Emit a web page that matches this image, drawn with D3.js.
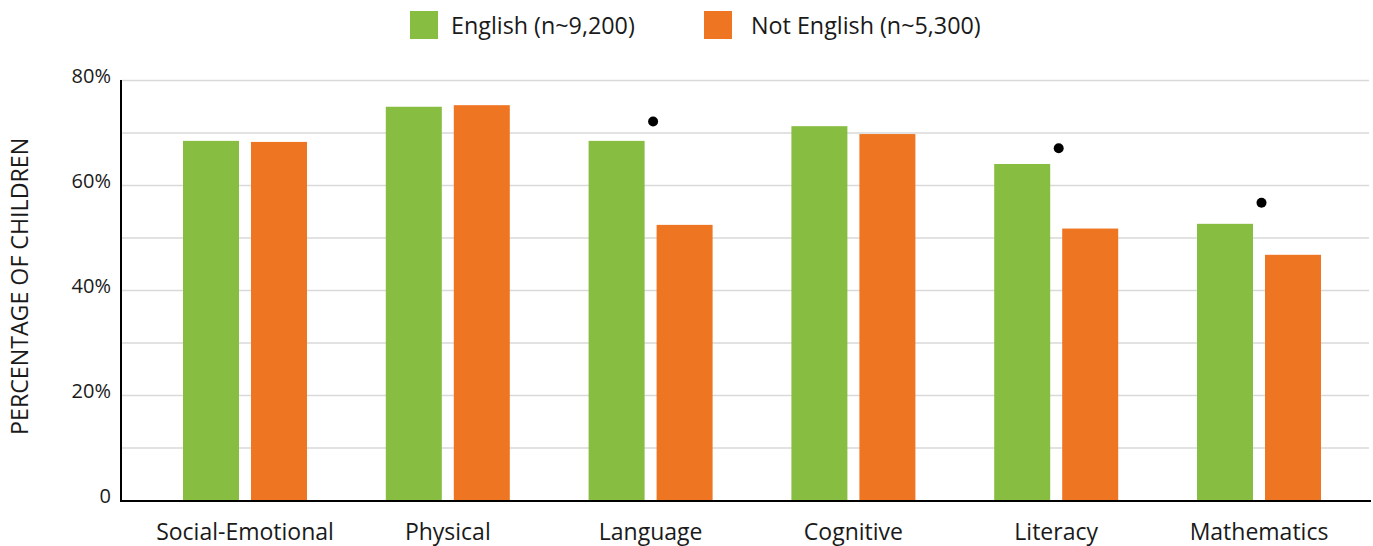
<!DOCTYPE html>
<html>
<head>
<meta charset="utf-8">
<script src="https://cdn.jsdelivr.net/npm/d3@7"></script>
<style>
  html, body { margin: 0; padding: 0; background: #ffffff; }
  svg { display: block; font-family: "Open Sans", "Noto Sans", sans-serif; }
</style>
</head>
<body>
<svg id="chart" width="1373" height="546"></svg>
<script>
// Domains of school readiness
const categories = ["Social-Emotional", "Physical", "Language", "Cognitive", "Literacy", "Mathematics"];

// Home language groups
const seriesNames = ["English (n~9,200)", "Not English (n~5,300)"];
const seriesColors = ["#87bd40", "#ee7623"];

// Percentage of children, one value per domain
const englishValues    = [68.5, 75.0, 68.5, 71.3, 64.1, 52.7];
const notEnglishValues = [68.3, 75.3, 52.5, 69.8, 51.8, 46.8];

// Significant-difference markers (domain, height in %)
const markerCategories = ["Language", "Literacy", "Mathematics"];
const markerValues     = [72.2, 67.1, 56.7];

// Axis ticks
const gridTicks  = [0, 10, 20, 30, 40, 50, 60, 70, 80];
const labelTicks = [0, 20, 40, 60, 80];
const yTitle = "PERCENTAGE OF CHILDREN";

const svg = d3.select("#chart");

const plot = { left: 121, right: 1369, top: 80.5, bottom: 500.5 };

const y = d3.scaleLinear().domain([0, 80]).range([plot.bottom, plot.top]);

const x0 = d3.scaleBand()
  .domain(categories)
  .range([143.6, 1360.4])
  .paddingInner(0.3886)
  .paddingOuter(0.1943);

const x1 = d3.scaleBand()
  .domain(seriesNames)
  .range([0, x0.bandwidth()])
  .paddingInner(12 / 68)
  .paddingOuter(0);

const color = d3.scaleOrdinal().domain(seriesNames).range(seriesColors);

// Gridlines
svg.append("g")
  .selectAll("line")
  .data(gridTicks.filter(t => t > 0))
  .join("line")
  .attr("x1", plot.left)
  .attr("x2", plot.right)
  .attr("y1", d => y(d))
  .attr("y2", d => y(d))
  .attr("stroke", "#d9d9d9")
  .attr("stroke-width", 1.5);

// Bars
const rows = categories.map((c, i) => ({
  category: c,
  values: [
    { series: seriesNames[0], value: englishValues[i] },
    { series: seriesNames[1], value: notEnglishValues[i] }
  ]
}));

svg.append("g")
  .selectAll("g")
  .data(rows)
  .join("g")
  .attr("transform", d => `translate(${x0(d.category)},0)`)
  .selectAll("rect")
  .data(d => d.values)
  .join("rect")
  .attr("x", d => x1(d.series))
  .attr("width", x1.bandwidth())
  .attr("y", d => y(d.value))
  .attr("height", d => y(0) - y(d.value))
  .attr("fill", d => color(d.series));

// Significance dots
svg.append("g")
  .selectAll("circle")
  .data(markerCategories.map((c, i) => ({ category: c, value: markerValues[i] })))
  .join("circle")
  .attr("cx", d => x0(d.category) + x0.bandwidth() / 2 + 2.5)
  .attr("cy", d => y(d.value))
  .attr("r", 5)
  .attr("fill", "#000000");

// Axis lines
svg.append("line")
  .attr("x1", plot.left).attr("x2", plot.left)
  .attr("y1", plot.top - 0.5).attr("y2", plot.bottom + 1.5)
  .attr("stroke", "#000").attr("stroke-width", 2);

svg.append("line")
  .attr("x1", plot.left - 1).attr("x2", 1371)
  .attr("y1", plot.bottom + 0.5).attr("y2", plot.bottom + 0.5)
  .attr("stroke", "#000").attr("stroke-width", 2);

// Y tick labels
svg.append("g")
  .selectAll("text")
  .data(labelTicks)
  .join("text")
  .attr("x", 111)
  .attr("y", d => y(d) + 2)
  .attr("text-anchor", "end")
  .attr("font-size", 20)
  .attr("fill", "#1a1a1a")
  .text(d => d === 0 ? "0" : d + "%");

// X category labels
svg.append("g")
  .selectAll("text")
  .data(categories)
  .join("text")
  .attr("x", d => x0(d) + x0.bandwidth() / 2)
  .attr("y", 539.5)
  .attr("text-anchor", "middle")
  .attr("font-size", 23)
  .attr("fill", "#1a1a1a")
  .text(d => d);

// Y axis title
svg.append("text")
  .attr("transform", "translate(28,286.4) rotate(-90)")
  .attr("text-anchor", "middle")
  .attr("font-size", 23.2)
  .attr("fill", "#1a1a1a")
  .text(yTitle);

// Legend
const legendSwatchX = [410, 704];
const legendTextX = [451, 751];
const legend = svg.append("g")
  .selectAll("g")
  .data(seriesNames)
  .join("g");

legend.append("rect")
  .attr("x", (d, i) => legendSwatchX[i])
  .attr("y", 11)
  .attr("width", 28)
  .attr("height", 28)
  .attr("fill", d => color(d));

legend.append("text")
  .attr("x", (d, i) => legendTextX[i])
  .attr("y", 33.5)
  .attr("font-size", 23.3)
  .attr("fill", "#1a1a1a")
  .text(d => d);
</script>
</body>
</html>
